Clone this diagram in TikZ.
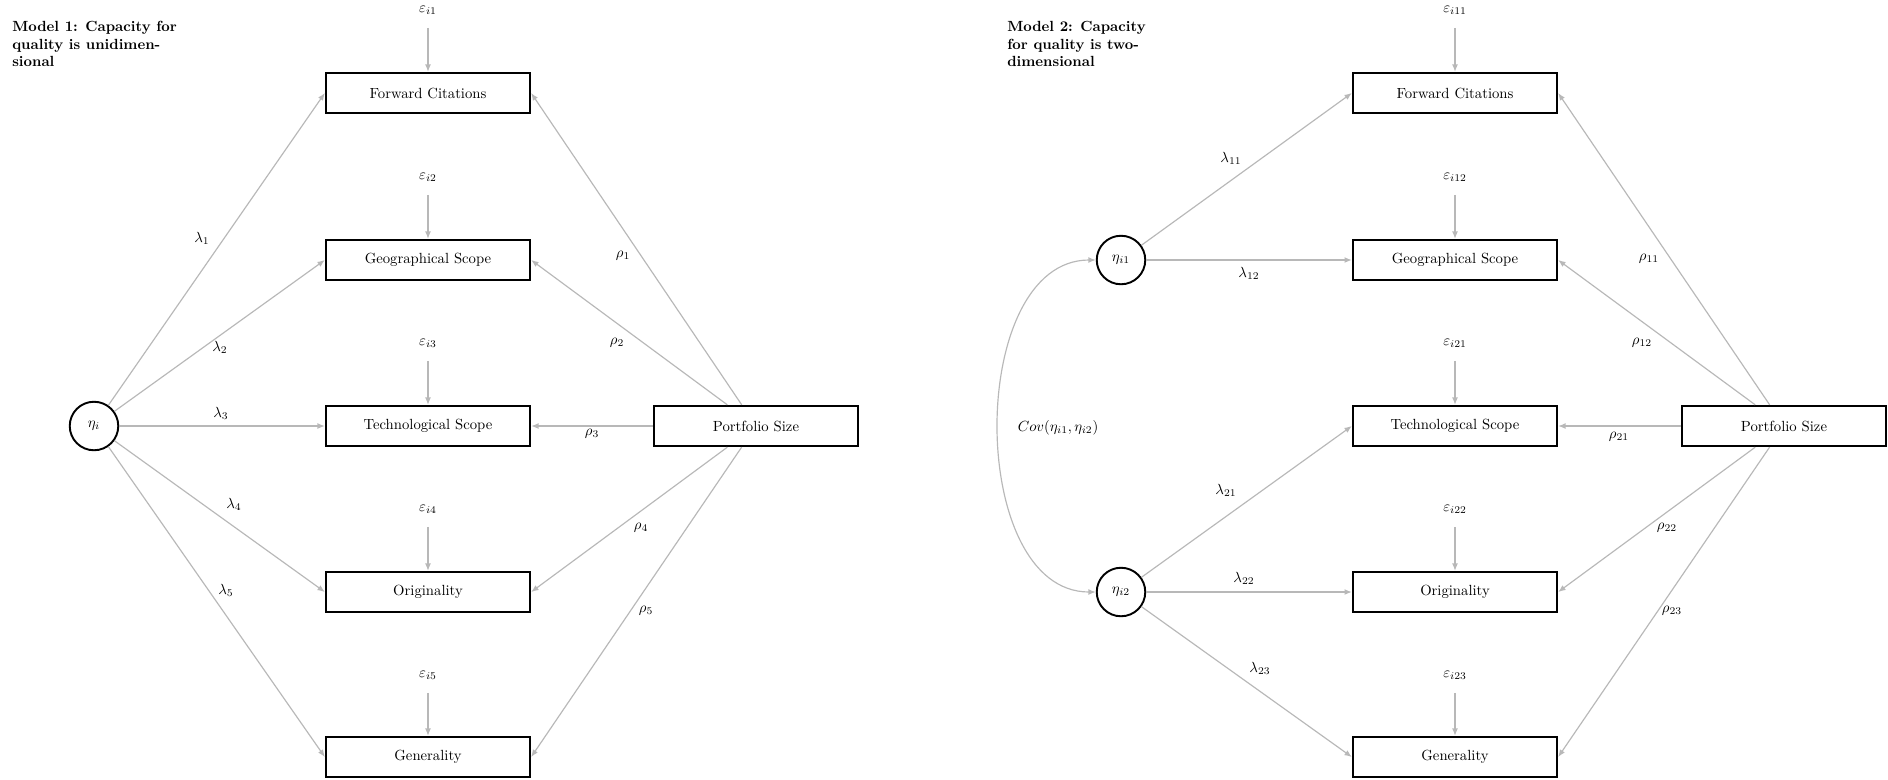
\documentclass[tikz,border=0pt]{standalone}
\usetikzlibrary{arrows.meta}
\begin{document}
\begin{tikzpicture}[x=0.68pt,y=-0.68pt,
  box/.style={draw,line width=1.3pt,minimum width=139pt,minimum height=27.5pt,inner sep=2pt},
  lat/.style={circle,draw,line width=1.3pt,minimum size=33pt,inner sep=0pt},
  arr/.style={draw=black!28,line width=0.8pt,-{Latex[length=5pt,width=4pt]}},
  biarr/.style={draw=black!28,line width=0.8pt,{Latex[length=5pt,width=4pt]}-{Latex[length=5pt,width=4pt]}},
  epsarr/.style={arr,shorten <=8pt},
  eps/.style={inner sep=1pt},
  lbl/.style={inner sep=1pt},
  ttl/.style={font=\bfseries,align=left,anchor=north west,inner sep=0pt}]
\useasboundingbox (0,0) rectangle (1888,779);

% ---------------- Model 1 ----------------
\node[ttl] (t1) at (12,21) {Model 1: Capacity for\\quality is unidimen-\\sional};

\node[box] (a1) at (428,93)  {Forward Citations};
\node[box] (a2) at (428,260) {Geographical Scope};
\node[box] (a3) at (428,426) {Technological Scope};
\node[box] (a4) at (428,592) {Originality};
\node[box] (a5) at (428,757) {Generality};

\node[eps] (ea1) at (428,10)  {$\varepsilon_{i1}$};
\node[eps] (ea2) at (428,177) {$\varepsilon_{i2}$};
\node[eps] (ea3) at (428,343) {$\varepsilon_{i3}$};
\node[eps] (ea4) at (428,509) {$\varepsilon_{i4}$};
\node[eps] (ea5) at (428,675) {$\varepsilon_{i5}$};

\node[lat] (eta) at (94,426) {$\eta_i$};
\node[box] (pa) at (756,426) {Portfolio Size};

\foreach \i in {1,...,5} {
  \draw[epsarr] (ea\i) -- (a\i);
  \draw[arr] (eta) -- (a\i.west);
  \draw[arr] (pa) -- (a\i.east);
}

\node[lbl] at (202,238) {$\lambda_1$};
\node[lbl] at (220,347) {$\lambda_2$};
\node[lbl] at (221,413) {$\lambda_3$};
\node[lbl] at (234,504) {$\lambda_4$};
\node[lbl] at (226,590) {$\lambda_5$};
\node[lbl] at (623,256) {$\rho_1$};
\node[lbl] at (617,343) {$\rho_2$};
\node[lbl] at (592,434) {$\rho_3$};
\node[lbl] at (641,528) {$\rho_4$};
\node[lbl] at (646,611) {$\rho_5$};

% ---------------- Model 2 ----------------
\node[ttl] (t2) at (1007,21) {Model 2: Capacity\\for quality is two-\\dimensional};

\node[box] (b1) at (1455,93)  {Forward Citations};
\node[box] (b2) at (1455,260) {Geographical Scope};
\node[box] (b3) at (1455,426) {Technological Scope};
\node[box] (b4) at (1455,592) {Originality};
\node[box] (b5) at (1455,757) {Generality};

\node[eps] (eb1) at (1455,10)  {$\varepsilon_{i11}$};
\node[eps] (eb2) at (1455,177) {$\varepsilon_{i12}$};
\node[eps] (eb3) at (1455,343) {$\varepsilon_{i21}$};
\node[eps] (eb4) at (1455,509) {$\varepsilon_{i22}$};
\node[eps] (eb5) at (1455,675) {$\varepsilon_{i23}$};

\node[lat] (etaA) at (1121,260) {$\eta_{i1}$};
\node[lat] (etaB) at (1121,592) {$\eta_{i2}$};
\node[box] (pb) at (1784,426) {Portfolio Size};

\foreach \i in {1,...,5} {
  \draw[epsarr] (eb\i) -- (b\i);
  \draw[arr] (pb) -- (b\i.east);
}
\draw[arr] (etaA) -- (b1.west);
\draw[arr] (etaA) -- (b2.west);
\draw[arr] (etaB) -- (b3.west);
\draw[arr] (etaB) -- (b4.west);
\draw[arr] (etaB) -- (b5.west);

\draw[biarr] (etaB.west) to[out=180,in=180] (etaA.west);
\node[lbl] (cov) at (1058,428) {$Cov(\eta_{i1},\eta_{i2})$};

\node[lbl] at (1231,158) {$\lambda_{11}$};
\node[lbl] at (1249,273) {$\lambda_{12}$};
\node[lbl] at (1226,490) {$\lambda_{21}$};
\node[lbl] at (1244,578) {$\lambda_{22}$};
\node[lbl] at (1260,668) {$\lambda_{23}$};
\node[lbl] at (1649,259) {$\rho_{11}$};
\node[lbl] at (1642,343) {$\rho_{12}$};
\node[lbl] at (1619,437) {$\rho_{21}$};
\node[lbl] at (1667,528) {$\rho_{22}$};
\node[lbl] at (1672,611) {$\rho_{23}$};
\end{tikzpicture}
\end{document}
